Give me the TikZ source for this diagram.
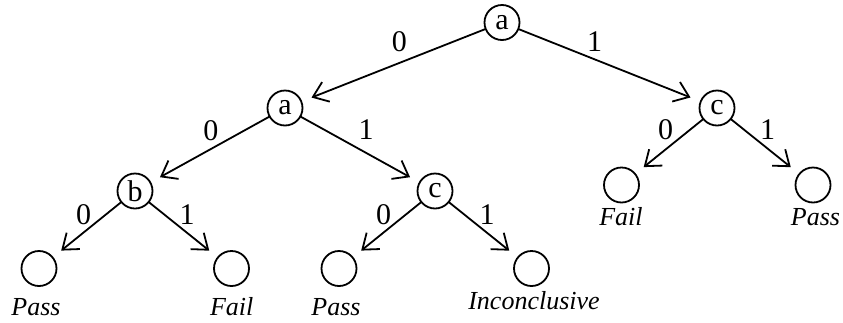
\documentclass[tikz,border=0pt]{standalone}
\usepackage{fontspec}
\setmainfont{Liberation Serif}
\usetikzlibrary{arrows.meta}
\begin{document}
\begin{tikzpicture}[x=1pt,y=-1pt,
  vert/.style={circle,draw,line width=1.8pt,minimum size=35pt,inner sep=0pt,outer sep=0pt,
    font=\fontsize{30}{31}\selectfont},
  leaf/.style={vert},
  verdict/.style={anchor=base,font=\fontsize{26}{28}\selectfont\itshape},
  bit/.style={font=\fontsize{30}{31}\selectfont,inner sep=0pt},
  edge/.style={line width=1.8pt,-{Straight Barb[length=14pt,width=21pt,line width=1.8pt]},shorten >=11pt}]
\useasboundingbox (0,0) rectangle (843,322);
% internal nodes
\node[vert] (r)  at (502,22.5) {a};
\node[vert] (a1) at (285,108) {a};
\node[vert] (c1) at (717,108) {c};
\node[vert] (b)  at (135,191) {b};
\node[vert] (c2) at (435,191) {c};
% leaves
\node[leaf] (l1) at (39,268.5) {};
\node[leaf] (l2) at (231.5,268.5) {};
\node[leaf] (l3) at (339,268.5) {};
\node[leaf] (l4) at (531.5,268.5) {};
\node[leaf] (l5) at (621.5,185) {};
\node[leaf] (l6) at (813,185) {};
% edges
\draw[edge] (r) -- (a1);
\draw[edge] (r) -- (c1);
\draw[edge] (a1) -- (b);
\draw[edge] (a1) -- (c2);
\draw[edge] (b) -- (l1);
\draw[edge] (b) -- (l2);
\draw[edge] (c2) -- (l3);
\draw[edge] (c2) -- (l4);
\draw[edge] (c1) -- (l5);
\draw[edge] (c1) -- (l6);
% edge labels
\node[bit] (e1) at (399.3,41.2) {0};
\node[bit] (e2) at (594.7,41.7) {1};
\node[bit] (e3) at (210.8,130.8) {0};
\node[bit] (e4) at (366,130) {1};
\node[bit] (e5) at (665.5,130) {0};
\node[bit] (e6) at (767.5,130) {1};
\node[bit] (e7) at (83.7,214.5) {0};
\node[bit] (e8) at (187,214.5) {1};
\node[bit] (e9) at (383.7,214.5) {0};
\node[bit] (e10) at (487,214.5) {1};
% verdicts
\node[verdict] (v1) at (36,315.7) {Pass};
\node[verdict] (v2) at (231.7,315.7) {Fail};
\node[verdict] (v3) at (336,315.7) {Pass};
\node[verdict] (v4) at (534,309) {Inconclusive};
\node[verdict] (v5) at (621,225) {Fail};
\node[verdict] (v6) at (815.5,225) {Pass};
\end{tikzpicture}
\end{document}
